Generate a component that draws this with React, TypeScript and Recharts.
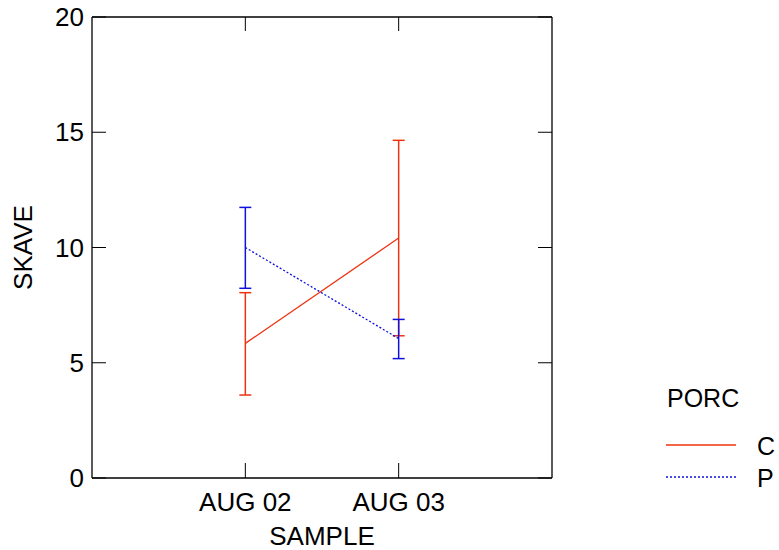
import { ComposedChart, Line, XAxis, YAxis, ErrorBar } from 'recharts';

const samples = ['AUG 02', 'AUG 03'];
const samplePos = [1, 2];
const yTicks = [0, 5, 10, 15, 20];

const groups = ['C', 'P'];
const groupColors = ['#ee3311', '#1111dd'];
const groupDash = ['', '2 2'];

const cMean = [5.84, 10.41];
const cLow = [3.6, 6.17];
const cHigh = [8.04, 14.65];

const pMean = [10.0, 6.05];
const pLow = [8.23, 5.18];
const pHigh = [11.74, 6.88];

const data = samples.map((name, i) => ({
  x: samplePos[i],
  name,
  C: cMean[i],
  cErr: [cMean[i] - cLow[i], cHigh[i] - cMean[i]],
  P: pMean[i],
  pErr: [pMean[i] - pLow[i], pHigh[i] - pMean[i]],
}));

const FONT = '"Liberation Sans", Arial, sans-serif';
const FS = 26;
const tickStyle = { fontSize: FS, fill: '#000' };
const frame = { stroke: '#000', strokeWidth: 1.3 };
const noLabel = () => '';

const PorcLegend = () => (
  <svg width={779} height={550} style={{ position: 'absolute', left: 0, top: 0, pointerEvents: 'none' }}>
    <text x={667} y={407} fontSize={25} fill="#000">PORC</text>
    {groups.map((g, i) => (
      <g key={g}>
        <line x1={666} x2={736} y1={445 + i * 32} y2={445 + i * 32} stroke={groupColors[i]} strokeWidth={1.3} strokeDasharray={groupDash[i] || undefined} />
        <text x={757} y={455 + i * 32} fontSize={25} fill="#000">{g}</text>
      </g>
    ))}
  </svg>
);

export default function App() {
  return (
    <div style={{ position: 'absolute', left: 0, top: 0, width: 779, height: 550, fontFamily: FONT, background: '#fff' }}>
      <ComposedChart width={779} height={550} data={data} margin={{ top: 16, right: 226, bottom: 0, left: 0 }}>
        <XAxis
          dataKey="x"
          type="number"
          domain={[0, 3]}
          ticks={samplePos}
          tickFormatter={(v: number) => samples[samplePos.indexOf(v)] ?? ''}
          height={72}
          tickSize={-15}
          tickMargin={30}
          tick={tickStyle}
          axisLine={frame}
          tickLine={{ stroke: '#000' }}
          label={{
            content: ({ viewBox }: any) => (
              <text x={viewBox.x + viewBox.width / 2} y={545} textAnchor="middle" fontSize={FS} fill="#000">SAMPLE</text>
            ),
          }}
        />
        <XAxis
          xAxisId="top"
          dataKey="x"
          orientation="top"
          type="number"
          domain={[0, 3]}
          ticks={samplePos}
          height={1}
          tickSize={-14}
          tickFormatter={noLabel}
          axisLine={frame}
          tickLine={{ stroke: '#000' }}
        />
        <YAxis
          type="number"
          domain={[0, 20]}
          ticks={yTicks}
          width={92}
          tickSize={-14}
          tickMargin={22}
          tick={tickStyle}
          axisLine={frame}
          tickLine={{ stroke: '#000' }}
          label={{
            content: ({ viewBox }: any) => {
              const cx = viewBox.x + 23;
              const cy = viewBox.y + viewBox.height / 2;
              return (
                <text x={cx} y={cy} transform={`rotate(-90, ${cx}, ${cy})`} textAnchor="middle" dominantBaseline="central" fontSize={FS} fill="#000">SKAVE</text>
              );
            },
          }}
        />
        <YAxis
          yAxisId="right"
          orientation="right"
          type="number"
          domain={[0, 20]}
          ticks={yTicks}
          width={1}
          tickSize={-14}
          tickFormatter={noLabel}
          axisLine={frame}
          tickLine={{ stroke: '#000' }}
        />
        {/* invisible series so the top and right frame axes get drawn */}
        <Line xAxisId="top" yAxisId="right" dataKey="C" stroke="none" dot={false} activeDot={false} legendType="none" isAnimationActive={false} />
        <Line dataKey="C" stroke={groupColors[0]} strokeWidth={1.3} dot={false} isAnimationActive={false}>
          <ErrorBar dataKey="cErr" direction="y" width={6} stroke={groupColors[0]} strokeWidth={1.5} isAnimationActive={false} />
        </Line>
        <Line dataKey="P" stroke={groupColors[1]} strokeWidth={1.3} strokeDasharray={groupDash[1]} dot={false} isAnimationActive={false}>
          <ErrorBar dataKey="pErr" direction="y" width={6} stroke={groupColors[1]} strokeWidth={1.5} isAnimationActive={false} />
        </Line>
      </ComposedChart>
      <PorcLegend />
    </div>
  );
}
